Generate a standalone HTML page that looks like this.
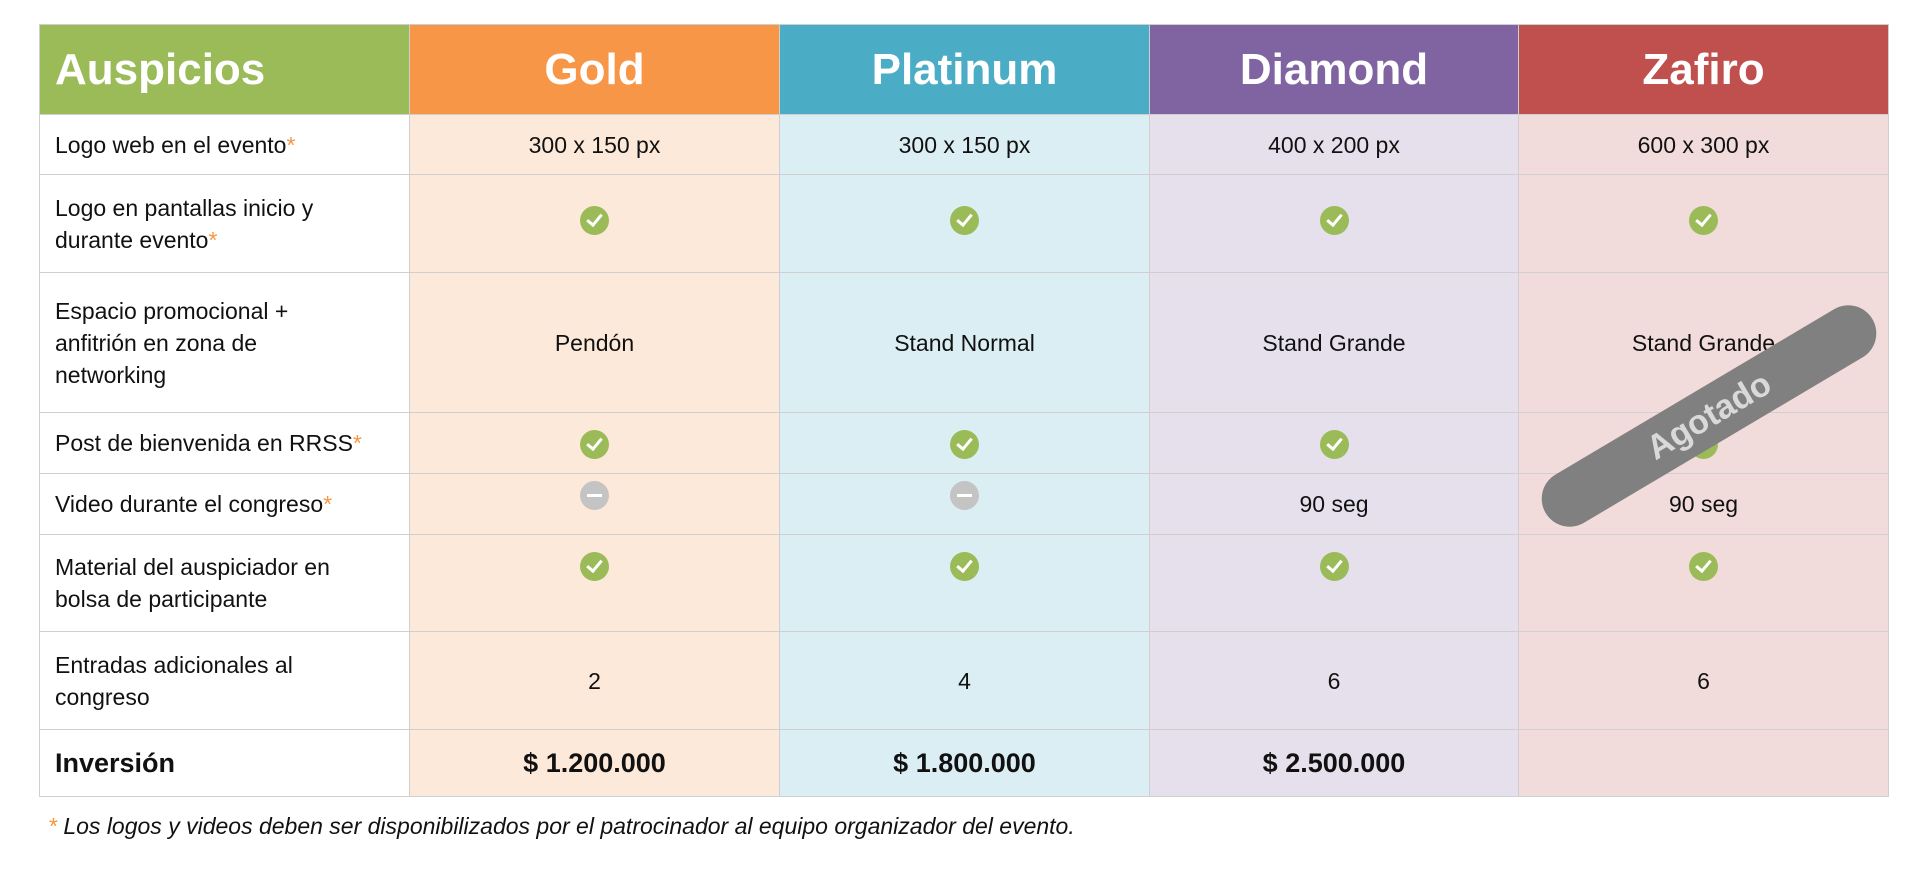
<!DOCTYPE html>
<html><head><meta charset="utf-8"><style>
body{margin:0;width:1920px;height:877px;background:#fff;position:relative;overflow:hidden;font-family:"Liberation Sans",sans-serif}
table{position:absolute;left:39px;top:24px;border-collapse:collapse;table-layout:fixed}
td{border:1.5px solid #cfcfcf;font-size:23px;color:#111;text-align:center;padding:0;line-height:32px}
td.l{text-align:left;padding-left:15px;background:#fff}
th{color:#fff;font-size:44px;font-weight:bold;border:1.5px solid #cfcfcf}
.s{color:#f79646}
.g{background:#fde9d9}.p{background:#dbeef3}.d{background:#e5e0ec}.z{background:#f2dcdb}
.ck{display:inline-block;width:29px;height:29px;border-radius:50%;background:#9bbb59;position:relative;vertical-align:middle}
.ck:after{content:"";position:absolute;left:10px;top:5px;width:6px;height:12px;border:solid #fff;border-width:0 3px 3px 0;transform:rotate(40deg)}
.mn{display:inline-block;width:29px;height:29px;border-radius:50%;background:#c4c4c4;position:relative;vertical-align:middle}
.mn:after{content:"";position:absolute;left:7px;top:13px;width:15px;height:3px;background:#fff}
.b{font-weight:bold;font-size:27px}
#band{position:absolute;left:1519px;top:388px;width:380px;height:56px;border-radius:28px;background:#808080;transform:rotate(-30.7deg);color:#d9d9d9;font-weight:bold;font-size:34px;line-height:56px;text-align:center}
#foot{position:absolute;left:48px;top:813px;font-size:23px;font-style:italic;color:#111}
</style></head><body>
<table>
<colgroup><col style="width:370px"><col style="width:370px"><col style="width:370px"><col style="width:369px"><col style="width:370px"></colgroup>
<tr style="height:90px">
<th style="background:#9bbb59;text-align:left;padding-left:15px">Auspicios</th>
<th style="background:#f79646">Gold</th>
<th style="background:#4bacc6">Platinum</th>
<th style="background:#8064a2">Diamond</th>
<th style="background:#c0504d">Zafiro</th></tr>
<tr style="height:60px"><td class="l">Logo web en el evento<span class="s">*</span></td><td class="g">300 x 150 px</td><td class="p">300 x 150 px</td><td class="d">400 x 200 px</td><td class="z">600 x 300 px</td></tr>
<tr style="height:98px"><td class="l">Logo en pantallas inicio y<br>durante evento<span class="s">*</span></td><td class="g"><span class="ck" style="top:-5px"></span></td><td class="p"><span class="ck" style="top:-5px"></span></td><td class="d"><span class="ck" style="top:-5px"></span></td><td class="z"><span class="ck" style="top:-5px"></span></td></tr>
<tr style="height:140px"><td class="l">Espacio promocional +<br>anfitrión en zona de<br>networking</td><td class="g">Pendón</td><td class="p">Stand Normal</td><td class="d">Stand Grande</td><td class="z">Stand Grande</td></tr>
<tr style="height:61px"><td class="l">Post de bienvenida en RRSS<span class="s">*</span></td><td class="g"><span class="ck"></span></td><td class="p"><span class="ck"></span></td><td class="d"><span class="ck"></span></td><td class="z"><span class="ck"></span></td></tr>
<tr style="height:61px"><td class="l">Video durante el congreso<span class="s">*</span></td><td class="g"><span class="mn" style="top:-10px"></span></td><td class="p"><span class="mn" style="top:-10px"></span></td><td class="d">90 seg</td><td class="z">90 seg</td></tr>
<tr style="height:97px"><td class="l">Material del auspiciador en<br>bolsa de participante</td><td class="g"><span class="ck" style="top:-18px"></span></td><td class="p"><span class="ck" style="top:-18px"></span></td><td class="d"><span class="ck" style="top:-18px"></span></td><td class="z"><span class="ck" style="top:-18px"></span></td></tr>
<tr style="height:98px"><td class="l">Entradas adicionales al<br>congreso</td><td class="g">2</td><td class="p">4</td><td class="d">6</td><td class="z">6</td></tr>
<tr style="height:67px"><td class="l b">Inversión</td><td class="g b">$ 1.200.000</td><td class="p b">$ 1.800.000</td><td class="d b">$ 2.500.000</td><td class="z"></td></tr>
</table>
<div id="band">Agotado</div>
<div id="foot"><span class="s">*</span> Los logos y videos deben ser disponibilizados por el patrocinador al equipo organizador del evento.</div>
</body></html>
